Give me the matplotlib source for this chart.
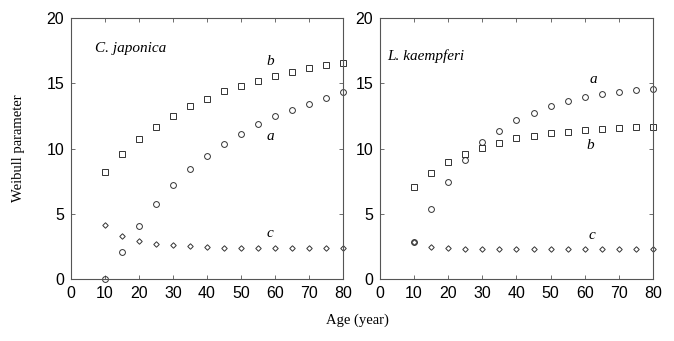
import matplotlib.pyplot as plt

# data
age = [10, 15, 20, 25, 30, 35, 40, 45, 50, 55, 60, 65, 70, 75, 80]

cj_a = [0.0, 2.1, 4.06, 5.72, 7.18, 8.43, 9.43, 10.32, 11.1, 11.85, 12.47, 12.97, 13.43, 13.9, 14.3]
cj_b = [8.2, 9.58, 10.7, 11.65, 12.5, 13.26, 13.8, 14.38, 14.8, 15.2, 15.55, 15.86, 16.14, 16.37, 16.58]
cj_c = [4.14, 3.27, 2.91, 2.71, 2.58, 2.5, 2.45, 2.4, 2.4, 2.4, 2.4, 2.35, 2.35, 2.35, 2.35]

lk_a = [2.81, 5.39, 7.46, 9.1, 10.47, 11.34, 12.18, 12.74, 13.26, 13.66, 13.95, 14.15, 14.3, 14.46, 14.53]
lk_b = [7.07, 8.15, 8.95, 9.55, 10.06, 10.45, 10.78, 10.96, 11.19, 11.29, 11.42, 11.52, 11.6, 11.65, 11.65]
lk_c = [2.8, 2.48, 2.35, 2.27, 2.27, 2.27, 2.27, 2.27, 2.32, 2.32, 2.32, 2.32, 2.32, 2.32, 2.32]

x_ticks = [0, 10, 20, 30, 40, 50, 60, 70, 80]
y_ticks = [0, 5, 10, 15, 20]

panels = [
    ("C. japonica", cj_a, cj_b, cj_c, (7, 17.4), (58.5, 10.9), (58.5, 16.65), (58.5, 3.45)),
    ("L. kaempferi", lk_a, lk_b, lk_c, (2, 16.8), (62.5, 15.25), (61.6, 10.2), (62, 3.3)),
]

SERIF = ["Liberation Serif", "DejaVu Serif"]
SANS = ["Liberation Sans Narrow", "Liberation Sans", "DejaVu Sans"]

fig = plt.figure(figsize=(6.74, 3.41), dpi=100)
positions = [[0.1053, 0.1818, 0.4036, 0.7654], [0.5638, 0.1818, 0.405, 0.7654]]

for pos, (name, a, b, c, name_xy, a_xy, b_xy, c_xy) in zip(positions, panels):
    ax = fig.add_axes(pos)
    mk = dict(linestyle="none", markerfacecolor="none", markeredgecolor="#333333",
              markeredgewidth=0.7, clip_on=False)
    ax.plot(age, b, marker="s", markersize=4, **mk)
    ax.plot(age, a, marker="o", markersize=4.2, **mk)
    ax.plot(age, c, marker="D", markersize=2.8, **mk)

    ax.set_xlim(0, 80)
    ax.set_ylim(0, 20)
    ax.set_xticks(x_ticks)
    ax.set_yticks(y_ticks)
    ax.tick_params(direction="in", length=3, width=0.6, color="#555555",
                   top=True, right=True, labelsize=11.5, pad=5)
    for lab in ax.get_xticklabels() + ax.get_yticklabels():
        lab.set_family(SANS)
    for sp in ax.spines.values():
        sp.set_linewidth(0.8)
        sp.set_color("#555555")

    ax.text(*name_xy, name, family=SERIF, style="italic", fontsize=11)
    ax.text(*a_xy, "a", family=SERIF, style="italic", fontsize=11, ha="center", va="center")
    ax.text(*b_xy, "b", family=SERIF, style="italic", fontsize=11, ha="center", va="center")
    ax.text(*c_xy, "c", family=SERIF, style="italic", fontsize=11, ha="center", va="center")

fig.text(0.027, 0.566, "Weibull parameter", family=SERIF, fontsize=10.5,
         rotation=90, ha="center", va="center")
fig.text(0.531, 0.06, "Age (year)", family=SERIF, fontsize=10.5, ha="center", va="center")

fig.savefig("out.png", dpi=100)
